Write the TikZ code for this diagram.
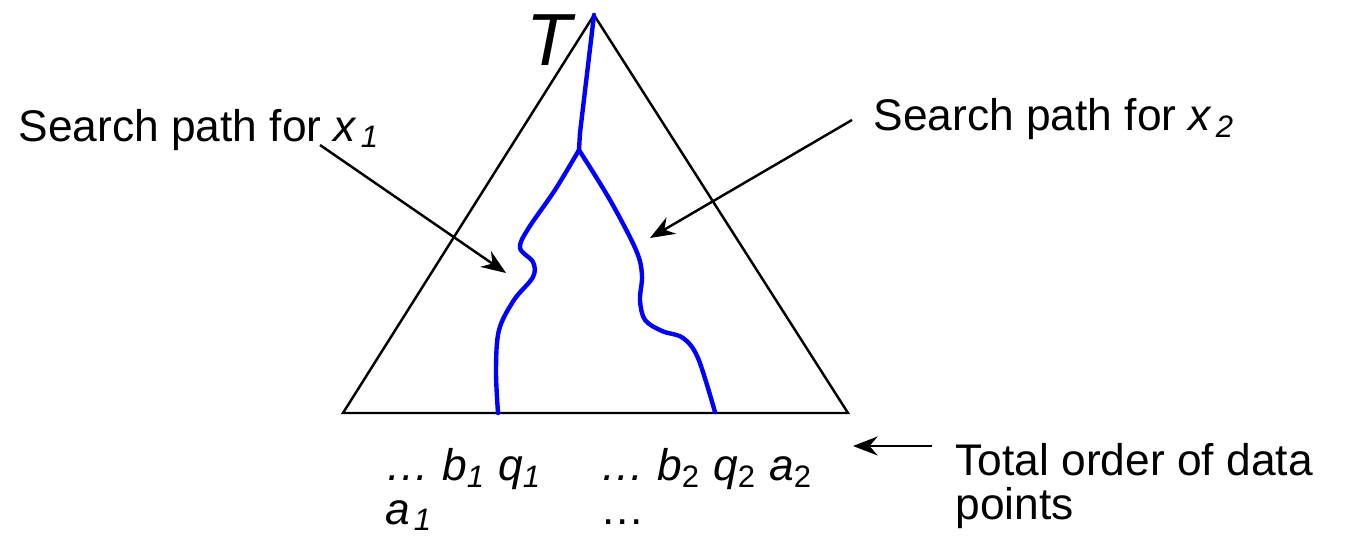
\documentclass[tikz,border=0pt]{standalone}
\usepackage{fontspec}
\setmainfont{Liberation Sans}
\usetikzlibrary{arrows.meta, positioning}

\begin{document}
\begin{tikzpicture}[
  x=0.01cm, y=-0.01cm,
  txt/.style={inner sep=0pt, anchor=base west, font=\fontsize{12.6}{12.3}\selectfont},
  arrow/.style={-{Stealth[length=7pt, width=5.4pt]}, line width=0.7pt},
  tree/.style={line width=0.7pt},
  searchpath/.style={blue, line width=1.25pt, line cap=round}
]
  \useasboundingbox (0,0) rectangle (1350,539);

  % the tree T
  \coordinate (top) at (594,15);
  \coordinate (lft) at (343,413);
  \coordinate (rgt) at (848,413);
  \draw[tree] (top) -- (lft) -- (rgt) -- cycle;
  \node[txt, font=\fontsize{21}{21}\selectfont\itshape] (tname) at (526,65) {T};

  % search paths
  \coordinate (fork) at (579,150);
  \draw[searchpath] (top) -- (580,133) -- (fork);
  \draw[searchpath] plot[smooth, tension=0.55] coordinates {(579,150) (555,190) (528,229) (520,248) (533,262) (533,277) (514,300) (499,330) (496,370) (498,413)};
  \draw[searchpath] plot[smooth, tension=0.55] coordinates {(579,150) (610,200) (636,250) (642,275) (640,300) (645,320) (662,331) (683,338) (698,358) (715,412)};

  % labels
  \node[txt] (path1) at (18,141) {Search path for \textit{x}\textsubscript{\kern1pt\textit{1}}};
  \node[txt] (path2) at (873,130) {Search path for \textit{x}\textsubscript{\kern1pt\textit{2}}};
  \node[txt, align=left] (order) at (955,519) {Total order of data\\points};
  \node[txt, align=left] (keys1) at (385,524) {\textit{… b}\textsubscript{\textit{1}} \textit{q}\textsubscript{\textit{1}}\\\textit{a}\textsubscript{\kern1pt\textit{1}}};
  \node[txt, align=left] (keys2) at (600,524) {\textit{… b}\textsubscript{2} \textit{q}\textsubscript{2} \textit{a}\textsubscript{2}\\…};

  % arrows
  \coordinate (tail1) at (320,145);
  \coordinate (head1) at (506,273);
  \coordinate (tail2) at (852,120);
  \coordinate (head2) at (650,238);
  \coordinate (tail3) at (932,446);
  \coordinate (head3) at (853,446);
  \draw[arrow] (tail1) -- (head1);
  \draw[arrow] (tail2) -- (head2);
  \draw[arrow] (tail3) -- (head3);
\end{tikzpicture}
\end{document}
